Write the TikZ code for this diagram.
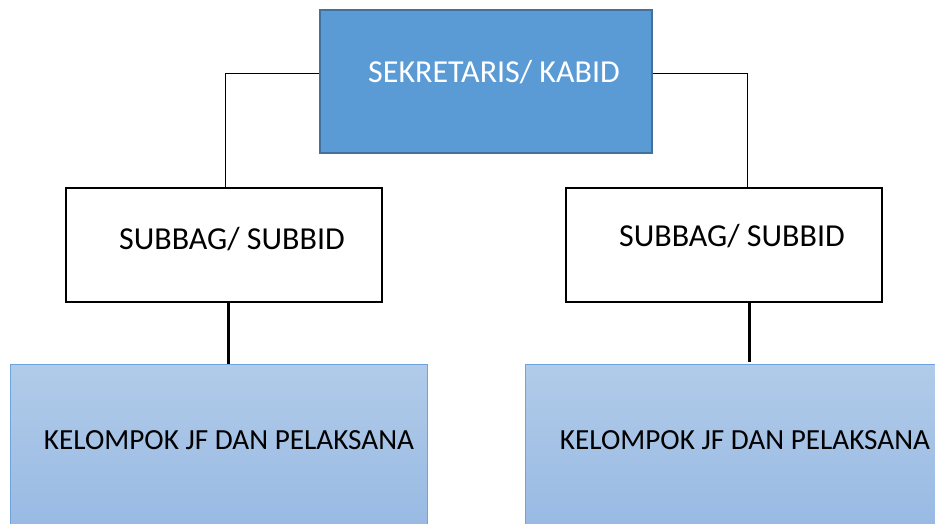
\documentclass[tikz,border=0pt]{standalone}
\usepackage{fontspec}
\setmainfont{Carlito}
\definecolor{topfill}{HTML}{5B9BD5}
\definecolor{topline}{HTML}{41719C}
\definecolor{kelA}{HTML}{B1CBE9}
\definecolor{kelB}{HTML}{94B7E2}
\definecolor{kelline}{HTML}{6FA3DB}
\begin{document}
\begin{tikzpicture}[x=1pt,y=-1pt,
  topbox/.style={draw=topline,fill=topfill,line width=1.5pt,minimum width=332pt,minimum height=143pt,anchor=north west,inner sep=0pt},
  subbox/.style={draw=black,fill=white,line width=2pt,minimum width=316pt,minimum height=114pt,anchor=north west,inner sep=0pt},
  kelbox/.style={draw=kelline,top color=kelA,bottom color=kelB,line width=1pt,minimum width=417pt,minimum height=190pt,anchor=north west,inner sep=0pt},
  lbl/.style={font=\fontsize{32}{36}\selectfont,inner sep=0pt},
  klbl/.style={font=\fontsize{29.2}{33}\selectfont,inner sep=0pt},
  thin/.style={draw=black,line width=0.9pt},
  thick/.style={draw=black,line width=3pt}]
\useasboundingbox (0,0) rectangle (935,523);
\node[topbox] (top) at (319,9) {};
\node[subbox] (sub1) at (65,187) {};
\node[subbox] (sub2) at (565,187) {};
\node[kelbox] (kel1) at (10,364) {};
\node[kelbox,minimum width=430pt] (kel2) at (525,364) {};
\node[lbl,text=white] (t0) at (494,72) {SEKRETARIS/ KABID};
\node[lbl] (t1) at (232,239) {SUBBAG/ SUBBID};
\node[lbl] (t2) at (732,236) {SUBBAG/ SUBBID};
\node[klbl] (t3) at (229,440) {KELOMPOK JF DAN PELAKSANA};
\node[klbl] (t4) at (745,440) {KELOMPOK JF DAN PELAKSANA};
\draw[thin] ([yshift=8pt]top.west) -| ([xshift=1pt]sub1.north);
\draw[thin] ([yshift=8pt]top.east) -| ([xshift=23pt]sub2.north);
\draw[thick] ([xshift=4pt]sub1.south) -- ([xshift=4pt]sub1.south |- kel1.north);
\draw[thick] ([xshift=25pt]sub2.south) -- ([xshift=25pt,yshift=2pt]sub2.south |- kel2.north);
\end{tikzpicture}
\end{document}
